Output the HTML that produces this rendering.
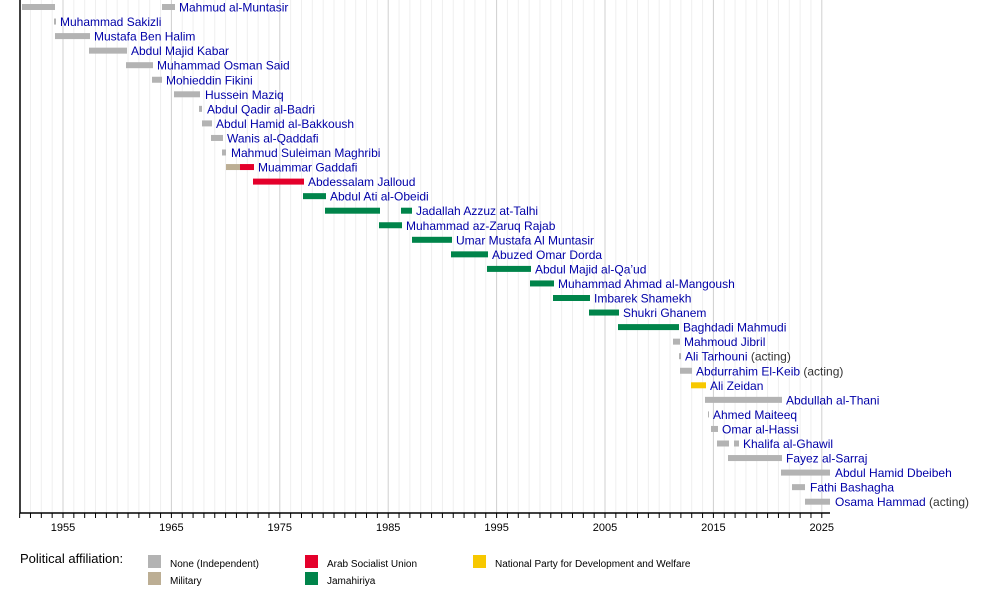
<!DOCTYPE html>
<html><head><meta charset="utf-8"><style>
body{margin:0;background:#fff;width:1000px;height:593px;overflow:hidden}
svg{display:block}
text{font-family:"Liberation Sans",sans-serif}
.l{font-size:12px;fill:#0000a8}
.a{fill:#333}
.t{font-size:11px;fill:#000}
</style></head><body>
<svg id="s" width="1000" height="593" xmlns="http://www.w3.org/2000/svg">
<g id="grid"></g>
<g id="bars"></g>
<line x1="20" y1="0" x2="20" y2="513" stroke="#000" stroke-width="1.5"/>
<line x1="20" y1="513" x2="830" y2="513" stroke="#000" stroke-width="1.5"/>
<g id="ticks"></g>
<text x="20" y="563" font-size="13" fill="#000">Political affiliation:</text>
<rect x="148" y="555" width="13" height="13" fill="#b3b3b3"/><text x="170" y="567" font-size="10" fill="#000">None (Independent)</text>
<rect x="148" y="572" width="13" height="13" fill="#bcae94"/><text x="170" y="584" font-size="10" fill="#000">Military</text>
<rect x="305" y="555" width="13" height="13" fill="#e4002b"/><text x="327" y="567" font-size="10" fill="#000">Arab Socialist Union</text>
<rect x="305" y="572" width="13" height="13" fill="#00844a"/><text x="327" y="584" font-size="10" fill="#000">Jamahiriya</text>
<rect x="473" y="555" width="13" height="13" fill="#f7c800"/><text x="495" y="567" font-size="10" fill="#000">National Party for Development and Welfare</text>
</svg>
<script>
var NS="http://www.w3.org/2000/svg";
function el(p,n,a,txt){var e=document.createElementNS(NS,n);for(var k in a)e.setAttribute(k,a[k]);if(txt)e.textContent=txt;document.getElementById(p).appendChild(e);return e;}
function X(y){return 63+(y-1955)*10.84;}
for(var y=1951;y<=2025;y++){var x=X(y);var maj=(y-1955)%10==0;
 if(y>1951)el("grid","line",{x1:x,y1:0,x2:x,y2:513,stroke:maj?"#d0d0d0":"#efefef","stroke-width":1});
 el("ticks","line",{x1:x,y1:513,x2:x,y2:518,stroke:"#000","stroke-width":1});
 if(maj)el("ticks","text",{x:x,y:531,"text-anchor":"middle",class:"t"},""+y);}
var G="#b3b3b3",T="#bcae94",R="#e4002b",N="#00844a",Y="#f7c800";
var rows=[
[[22,55,G],[162,175,G]],179,"Mahmud al-Muntasir","",
[[54,56,G]],60,"Muhammad Sakizli","",
[[55,90,G]],94,"Mustafa Ben Halim","",
[[89,127,G]],131,"Abdul Majid Kabar","",
[[126,153,G]],157,"Muhammad Osman Said","",
[[152,162,G]],166,"Mohieddin Fikini","",
[[174,200,G]],205,"Hussein Maziq","",
[[199,202,G]],207,"Abdul Qadir al-Badri","",
[[202,212,G]],216,"Abdul Hamid al-Bakkoush","",
[[211,223,G]],227,"Wanis al-Qaddafi","",
[[222,226,G]],231,"Mahmud Suleiman Maghribi","",
[[226,240,T],[240,254,R]],258,"Muammar Gaddafi","",
[[253,304,R]],308,"Abdessalam Jalloud","",
[[303,326,N]],330,"Abdul Ati al-Obeidi","",
[[325,380,N],[401,412,N]],416,"Jadallah Azzuz at-Talhi","",
[[379,402,N]],406,"Muhammad az-Zaruq Rajab","",
[[412,452,N]],456,"Umar Mustafa Al Muntasir","",
[[451,488,N]],492,"Abuzed Omar Dorda","",
[[487,531,N]],535,"Abdul Majid al-Qa\u2019ud","",
[[530,554,N]],558,"Muhammad Ahmad al-Mangoush","",
[[553,590,N]],594,"Imbarek Shamekh","",
[[589,619,N]],623,"Shukri Ghanem","",
[[618,679,N]],683,"Baghdadi Mahmudi","",
[[673,680,G]],684,"Mahmoud Jibril","",
[[679,681,G]],685,"Ali Tarhouni"," (acting)",
[[680,692,G]],696,"Abdurrahim El-Keib"," (acting)",
[[691,706,Y]],710,"Ali Zeidan","",
[[705,782,G]],786,"Abdullah al-Thani","",
[[708,709,G]],713,"Ahmed Maiteeq","",
[[711,718,G]],722,"Omar al-Hassi","",
[[717,729,G],[734,739,G]],743,"Khalifa al-Ghawil","",
[[728,782,G]],786,"Fayez al-Sarraj","",
[[781,830,G]],835,"Abdul Hamid Dbeibeh","",
[[792,805,G]],810,"Fathi Bashagha","",
[[805,830,G]],835,"Osama Hammad"," (acting)"];
for(var i=0;i<rows.length/4;i++){var b=rows[i*4],lx=rows[i*4+1],nm=rows[i*4+2],ex=rows[i*4+3];var cy=7+i*14.55;
 b.forEach(function(r){el("bars","rect",{x:r[0],y:cy-3,width:r[1]-r[0],height:6,fill:r[2]});});
 var t=el("bars","text",{x:lx,y:cy+4.5,class:"l"},nm);
 if(ex){var s=document.createElementNS(NS,"tspan");s.setAttribute("class","a");s.textContent=ex;t.appendChild(s);}}
</script>
</body></html>
